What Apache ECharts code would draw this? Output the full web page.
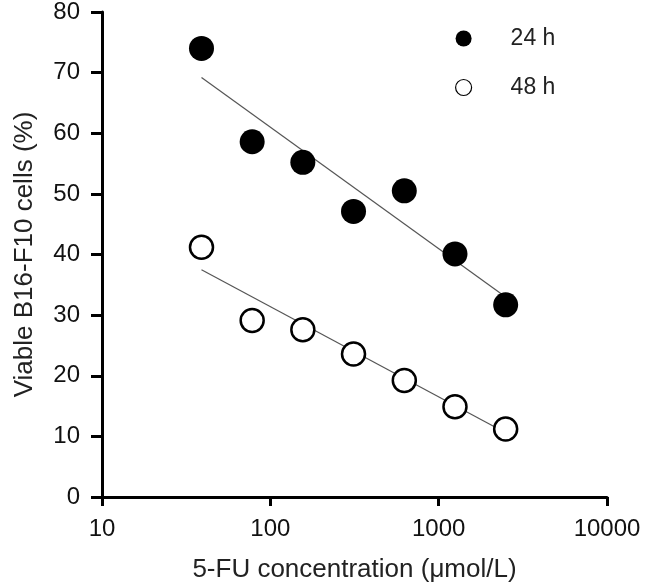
<!DOCTYPE html>
<html>
<head>
<meta charset="utf-8">
<script src="https://cdn.jsdelivr.net/npm/echarts@6/dist/echarts.min.js"></script>
<style>
  html, body { margin: 0; padding: 0; background: #fff; }
  #chart { width: 649px; height: 588px; }
</style>
</head>
<body>
<div id="chart"></div>
<script>
// 5-FU concentrations (umol/L)
const concentrations = [39, 78, 156, 312, 625, 1250, 2500]
const viable24h = [74.0, 58.6, 55.2, 47.1, 50.5, 40.1, 31.7]
const viable48h = [41.2, 29.1, 27.6, 23.6, 19.2, 14.9, 11.2]
// fitted trend lines at both ends
const fitX = [39, 2500]
const fit24h = [69.2, 33.0]
const fit48h = [37.5, 10.6]
const seriesNames = ['24 h', '48 h']

const font = 'Liberation Sans, Arial, sans-serif'
const pairs = (xs, ys) => xs.map((x, i) => [x, ys[i]])

const chart = echarts.init(document.getElementById('chart'))
chart.setOption({
  animation: false,
  grid: {
    left: 102,
    right: 42,
    top: 12,
    bottom: 89
  },
  legend: {
    data: [
      {name: seriesNames[0]},
      {name: seriesNames[1], itemStyle: {borderWidth: 1.2}}
    ],
    orient: 'vertical',
    left: 450,
    top: 22,
    itemWidth: 16,
    itemHeight: 16,
    itemGap: 26,
    icon: 'circle',
    textStyle: {
      fontFamily: font,
      fontSize: 23,
      color: '#222',
      padding: [0, 0, 0, 34]
    }
  },
  xAxis: {
    type: 'log',
    logBase: 10,
    min: 10,
    max: 10000,
    name: '5-FU concentration (μmol/L)',
    nameLocation: 'middle',
    nameGap: 60,
    nameTextStyle: {
      fontFamily: font,
      fontSize: 26,
      color: '#222'
    },
    axisLine: {
      lineStyle: {color: '#000', width: 3}
    },
    axisTick: {
      length: 9,
      lineStyle: {color: '#000', width: 3}
    },
    minorTick: {show: false},
    splitLine: {show: false},
    axisLabel: {
      margin: 20,
      fontFamily: font,
      fontSize: 24,
      color: '#111',
      formatter: (v) => String(Math.round(v))
    }
  },
  yAxis: {
    type: 'value',
    min: 0,
    max: 80,
    interval: 10,
    name: 'Viable B16-F10 cells (%)',
    nameLocation: 'middle',
    nameGap: 64,
    nameTextStyle: {
      fontFamily: font,
      fontSize: 26,
      color: '#222'
    },
    axisLine: {
      show: true,
      lineStyle: {color: '#000', width: 3}
    },
    axisTick: {
      show: true,
      length: 11,
      lineStyle: {color: '#000', width: 3}
    },
    splitLine: {show: false},
    axisLabel: {
      margin: 22,
      fontFamily: font,
      fontSize: 24,
      color: '#111'
    }
  },
  series: [
    {
      name: 'fit 24 h',
      type: 'line',
      data: pairs(fitX, fit24h),
      showSymbol: false,
      lineStyle: {color: '#555', width: 1.2},
      z: 1
    },
    {
      name: 'fit 48 h',
      type: 'line',
      data: pairs(fitX, fit48h),
      showSymbol: false,
      lineStyle: {color: '#555', width: 1.2},
      z: 1
    },
    {
      name: '24 h',
      type: 'scatter',
      data: pairs(concentrations, viable24h),
      symbol: 'circle',
      symbolSize: 25,
      itemStyle: {color: '#000', opacity: 1},
      z: 3
    },
    {
      name: '48 h',
      type: 'scatter',
      data: pairs(concentrations, viable48h),
      symbol: 'circle',
      symbolSize: 23,
      itemStyle: {color: '#fff', borderColor: '#000', borderWidth: 2.5, opacity: 1},
      z: 3
    }
  ]
})
</script>
</body>
</html>
